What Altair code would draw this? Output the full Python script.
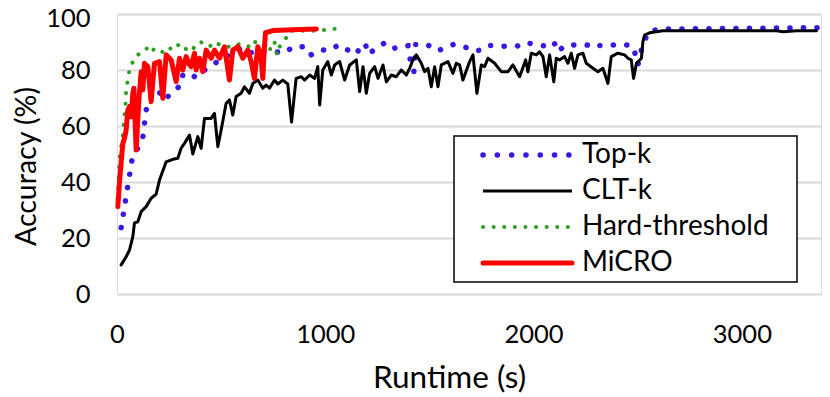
import altair as alt
import pandas as pd

series = ["Top-k", "CLT-k", "Hard-threshold", "MiCRO"]

topk_t = [20, 71, 124, 140, 164, 196, 228, 268, 308, 316, 364, 396, 420, 508, 556, 596, 636, 676,
          716, 765, 805, 844, 909, 933, 981, 1025, 1064, 1109, 1152, 1170, 1194, 1207, 1245, 1290,
          1333, 1376, 1397, 1408, 1425, 1434, 1493, 1541, 1581, 1618, 1674, 1712, 1746, 1778, 1831,
          1920, 1959, 2000, 2050, 2097, 2117, 2151, 2208, 2261, 2285, 2321, 2410, 2470, 2486, 2501,
          2525, 2557, 2621, 3334, 3370]
topk_v = [23.7, 47.5, 56, 65.7, 70.5, 72.9, 69.3, 72.3, 74.6, 78.2, 77, 80, 80, 84.2, 86, 87.8, 86,
          87.1, 86.5, 86.5, 86, 88.3, 88.3, 85.4, 87.1, 87.1, 89, 87.1, 85.7, 89.3, 88.8, 85.6, 87.8,
          89.9, 87.8, 88.7, 88.7, 83.6, 79.4, 89.2, 88.9, 86.8, 88.3, 89.2, 88.1, 86.8, 87.1, 88.8,
          88.5, 88.5, 89.9, 89.2, 88.6, 90.1, 86.5, 88.8, 89, 88.9, 88, 88.8, 89, 88.9, 86.2, 81.8,
          89.5, 94, 94.6, 95.1, 95.1]

cltk_t = [20, 44, 60, 76, 84, 100, 116, 140, 164, 188, 204, 236, 268, 292, 308, 324, 348, 364, 388,
          404, 420, 452, 468, 484, 500, 524, 540, 556, 572, 596, 612, 636, 652, 676, 700, 716, 732,
          756, 772, 796, 820, 838, 860, 885, 900, 925, 949, 964, 973, 988, 1012, 1029, 1045, 1069,
          1093, 1117, 1149, 1165, 1181, 1197, 1213, 1237, 1253, 1277, 1293, 1317, 1341, 1365, 1389,
          1405, 1421, 1437, 1461, 1477, 1493, 1509, 1525, 1541, 1557, 1589, 1613, 1629, 1645, 1661,
          1693, 1709, 1728, 1749, 1765, 1781, 1813, 1845, 1877, 1901, 1933, 1962, 1973, 1989, 2013,
          2029, 2045, 2061, 2077, 2097, 2109, 2125, 2149, 2165, 2181, 2197, 2213, 2237, 2253, 2285,
          2309, 2333, 2357, 2373, 2405, 2437, 2453, 2469, 2480, 2494, 2518, 2525, 2533, 2557, 2621,
          2846, 3166, 3198, 3262, 3358]
cltk_v = [10.4, 13.3, 15.7, 20.5, 25.4, 25.8, 29.4, 31.2, 34.2, 35.7, 40.7, 47.2, 48.1, 48.5, 52.1,
          53.8, 56.8, 50, 56.2, 52, 62.7, 62.7, 64.5, 52.6, 58.6, 68.1, 69.3, 63.9, 70.5, 71.7, 74,
          71.7, 75.2, 76.4, 73.5, 74.6, 73.5, 76.4, 75, 76.4, 75, 61.4, 77, 77.6, 76.4, 78.2, 77, 81.2,
          67.5, 80, 83, 78.2, 81.8, 83, 76.4, 81.8, 83.6, 72.3, 81.2, 71.7, 78.8, 81.2, 77, 81.8, 75.8,
          78.2, 77.6, 80, 78.2, 80.6, 83.6, 85.4, 82.4, 79.4, 80.6, 74, 81.2, 74, 81.8, 83, 78.8, 82.4,
          81.8, 76.4, 83, 85.4, 71.7, 81.8, 81.2, 84.2, 82.4, 79.4, 79.4, 81.8, 77.6, 83.6, 79.4, 86,
          85.4, 86.5, 84.8, 77.6, 85.4, 75.8, 84.2, 83.6, 84.8, 82.4, 86, 80.6, 85.4, 86, 82.4, 80.6,
          79.4, 80.6, 75.2, 84.8, 86, 85.4, 84.2, 83.6, 77, 82.4, 84.2, 90.1, 92.5, 93.3, 94, 94, 94,
          93.7, 94, 94]

hard_t = [3, 14, 20, 28, 36, 41, 44, 52, 60, 68, 84, 100, 140, 164, 180, 204, 228, 252, 276, 300,
          324, 356, 372, 396, 420, 444, 468, 508, 556, 596, 645, 660, 676, 710, 733, 740, 756, 768,
          780, 796, 805, 830, 968, 1015, 1062]
hard_v = [34, 50, 52.6, 56.8, 63.9, 68.1, 72.9, 76.4, 80, 82.4, 83, 85.4, 87.8, 86, 87.8, 87.1, 86,
          87.8, 87.1, 89.5, 87.8, 86.5, 88.3, 90.1, 89.5, 88.3, 90.1, 88.3, 88.3, 89.5, 88, 90.1, 89.5,
          88.9, 86.5, 89.5, 90.1, 85.4, 88.3, 89.5, 90.5, 94, 94, 94.5, 94.8]

micro_t = [4, 12, 20, 28, 36, 44, 52, 60, 68, 76, 81, 92, 105, 116, 124, 132, 148, 164, 180, 204,
           220, 236, 260, 284, 300, 316, 332, 348, 356, 372, 380, 396, 412, 428, 452, 468, 492, 516,
           540, 556, 580, 604, 628, 644, 660, 676, 690, 700, 706, 713, 748, 877, 957]
micro_v = [31.2, 40, 47, 53.8, 55.6, 58.6, 65.7, 66.9, 63.3, 71.7, 73.5, 51.4, 69.3, 79.4, 72.9,
           82.4, 81.2, 68.7, 82.4, 83, 69.9, 85.4, 83.6, 75.8, 84.2, 80, 84.8, 82, 81.2, 86, 80, 84.2,
           79.4, 87.1, 84.2, 87.1, 84.2, 88.3, 76.4, 87.1, 88.3, 84.2, 87.1, 83, 77, 88.3, 86, 77, 86,
           93.3, 94.1, 94.5, 94.6]

FONT = "Lato"
W, H = 704, 280
TICK_FS = 25.5
TEXT_FS = 28

def frame(t, v):
    return pd.DataFrame({"t": t, "v": v})

x_enc = alt.X("t:Q", scale=alt.Scale(domain=[0, 3380], nice=False, zero=False),
              axis=alt.Axis(values=[0, 1000, 2000, 3000], format="d", title="Runtime (s)",
                            grid=False, domain=False, ticks=False, labelPadding=28,
                            labelFlush=False, labelFontSize=TICK_FS, titleFontSize=31.5,
                            titleFontWeight="normal", titleX=332, titleY=84,
                            titleAlign="center", titleBaseline="middle", labelFont=FONT,
                            titleFont=FONT, labelColor="black", titleColor="black"))
y_enc = alt.Y("v:Q", scale=alt.Scale(domain=[0, 100], nice=False),
              axis=alt.Axis(values=[0, 20, 40, 60, 80, 100], title="Accuracy (%)", grid=True,
                            gridColor="#d9d9d9", gridWidth=2, domain=False, ticks=False,
                            labelPadding=27, labelFontSize=TICK_FS, titleFontSize=28.5,
                            labelFlush=False,
                            labelOffset={"condition": {"test": "datum.value == 100", "value": 4},
                                         "value": 0},
                            titleFontWeight="normal", titleX=-91, titleY=152, titleAngle=-90,
                            titleAlign="center", titleBaseline="middle", labelFont=FONT,
                            titleFont=FONT, labelColor="black", titleColor="black"))

BLUE = "#3b17e3"
GREEN = "#2f9f22"
RED = "#ff0000"

topk = alt.Chart(frame(topk_t, topk_v)).mark_line(
    color=BLUE, strokeWidth=5.5, strokeDash=[0.1, 13.4], strokeCap="round"
).encode(x=x_enc, y=y_enc)
cltk = alt.Chart(frame(cltk_t, cltk_v)).mark_line(
    color="black", strokeWidth=3, strokeJoin="round", strokeCap="round"
).encode(x="t:Q", y="v:Q")
hard = alt.Chart(frame(hard_t, hard_v)).mark_line(
    color=GREEN, strokeWidth=4, strokeDash=[0.1, 10.5], strokeCap="round"
).encode(x="t:Q", y="v:Q")
micro = alt.Chart(frame(micro_t, micro_v)).mark_line(
    color=RED, strokeWidth=5, strokeJoin="round", strokeCap="round"
).encode(x="t:Q", y="v:Q")

# legend (drawn manually so dotted symbols keep round dots)
leg_df = pd.DataFrame({"name": series, "i": list(range(len(series)))})
box = alt.Chart(pd.DataFrame({"a": [0]})).mark_rect(
    fill="white", stroke="black", strokeWidth=1.5
).encode(x=alt.value(337), x2=alt.value(680), y=alt.value(122), y2=alt.value(268))

styles = [
    dict(color=BLUE, strokeWidth=5.5, strokeDash=[0.1, 14.2], strokeCap="round"),
    dict(color="black", strokeWidth=3),
    dict(color=GREEN, strokeWidth=4, strokeDash=[0.1, 10.5], strokeCap="round"),
    dict(color=RED, strokeWidth=5, strokeCap="round"),
]
leg_layers = []
for i, st in enumerate(styles):
    ypix = 141 + 36 * i
    leg_layers.append(
        alt.Chart(leg_df[leg_df.i == i]).mark_rule(**st).encode(
            x=alt.value(366), x2=alt.value(455), y=alt.value(ypix))
    )
    leg_layers.append(
        alt.Chart(leg_df[leg_df.i == i]).mark_text(
            align="left", baseline="middle", fontSize=TEXT_FS, font=FONT, color="black"
        ).encode(text="name:N", x=alt.value(465), y=alt.value(ypix))
    )

chart = alt.layer(topk, cltk, hard, micro, box, *leg_layers).properties(
    width=W, height=H,
    autosize=alt.AutoSizeParams(type="none"),
    padding={"left": 109, "top": 6, "right": 1, "bottom": 100},
).configure_view(stroke="black", strokeWidth=2).configure(background="white")

chart.save("out.html", embed_options={"renderer": "svg", "actions": False})
